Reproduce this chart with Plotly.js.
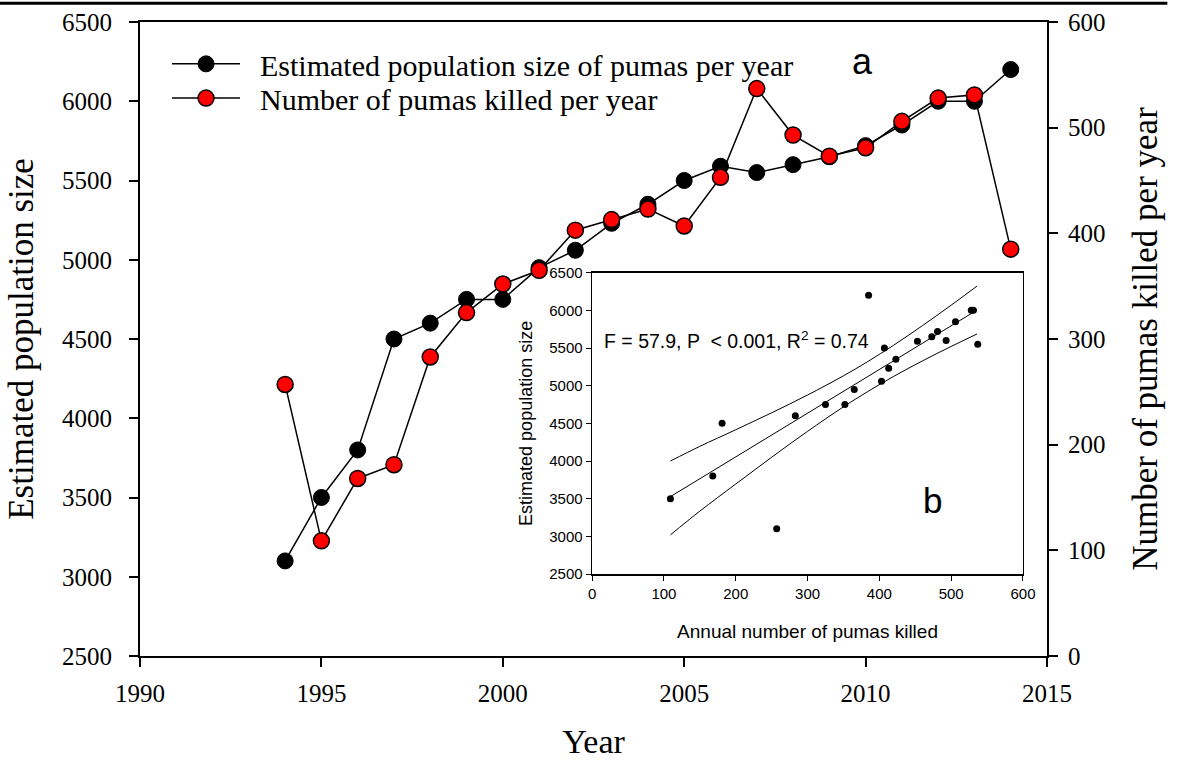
<!DOCTYPE html>
<html>
<head>
<meta charset="utf-8">
<script src="https://cdn.plot.ly/plotly-3.0.1.min.js"></script>
<style>
  html, body { margin: 0; padding: 0; background: #ffffff; }
  #chart { width: 1180px; height: 760px; }
</style>
</head>
<body>
<div id="chart"></div>
<script>
// ---- Data ----
const years = [1994, 1995, 1996, 1997, 1998, 1999, 2000, 2001, 2002, 2003, 2004,
               2005, 2006, 2007, 2008, 2009, 2010, 2011, 2012, 2013, 2014];
const populationSize = [3100, 3500, 3800, 4500, 4600, 4750, 4750, 4950, 5060, 5230, 5350,
                        5500, 5590, 5550, 5600, 5650, 5720, 5850, 6000, 6000, 6200];
const pumasKilled = [257, 109, 168, 181, 283, 325, 352, 365, 403, 413, 423,
                     407, 453, 537, 493, 473, 481, 506, 528, 531, 385];

// Regression line and confidence band of the inset
const fitKilled = [109, 536];
const fitPopulation = [3527, 6004];
const bandKilled = [109, 150, 200, 250, 300, 350, 384, 420, 460, 500, 536];
const bandUpper  = [4000, 4195, 4415, 4640, 4876, 5131, 5321, 5538, 5797, 6069, 6322];
const bandLower  = [3020, 3335, 3695, 4050, 4394, 4719, 4923, 5124, 5329, 5521, 5686];

// Axis tick values
const yearTicks = [1990, 1995, 2000, 2005, 2010, 2015];
const popTicks = [2500, 3000, 3500, 4000, 4500, 5000, 5500, 6000, 6500];
const killedTicks = [0, 100, 200, 300, 400, 500, 600];
const insetXTicks = [0, 100, 200, 300, 400, 500, 600];

const serif = 'Liberation Serif, Times New Roman, serif';
const sans = 'Liberation Sans, Arial, sans-serif';
const gap = '\u00a0\u00a0';

const traces = [
  {
    x: years, y: populationSize, xaxis: 'x', yaxis: 'y',
    type: 'scatter', mode: 'lines+markers',
    name: gap + 'Estimated population size of pumas per year',
    line: { color: '#000000', width: 1.5 },
    marker: { color: '#000000', size: 16, line: { color: '#000000', width: 1 } },
    legend: 'legend'
  },
  {
    x: years, y: pumasKilled, xaxis: 'x', yaxis: 'y2',
    type: 'scatter', mode: 'lines+markers',
    name: gap + 'Number of pumas killed per year',
    line: { color: '#000000', width: 1.5 },
    marker: { color: '#ff0000', size: 16, line: { color: '#000000', width: 1.5 } },
    legend: 'legend2'
  },
  {
    x: bandKilled, y: bandUpper, xaxis: 'x3', yaxis: 'y3',
    type: 'scatter', mode: 'lines', line: { color: '#000000', width: 1, shape: 'spline' },
    showlegend: false, hoverinfo: 'skip'
  },
  {
    x: bandKilled, y: bandLower, xaxis: 'x3', yaxis: 'y3',
    type: 'scatter', mode: 'lines', line: { color: '#000000', width: 1, shape: 'spline' },
    showlegend: false, hoverinfo: 'skip'
  },
  {
    x: fitKilled, y: fitPopulation, xaxis: 'x3', yaxis: 'y3',
    type: 'scatter', mode: 'lines', line: { color: '#000000', width: 1 },
    showlegend: false, hoverinfo: 'skip'
  },
  {
    x: pumasKilled, y: populationSize, xaxis: 'x3', yaxis: 'y3',
    type: 'scatter', mode: 'markers',
    marker: { color: '#000000', size: 7 },
    showlegend: false
  }
];

const layout = {
  width: 1180, height: 760, autosize: false,
  paper_bgcolor: '#ffffff', plot_bgcolor: 'rgba(0,0,0,0)',
  margin: { l: 140, r: 133, t: 22, b: 104, pad: 0 },
  showlegend: true,
  xaxis: {
    domain: [0, 1], range: [1990, 2015], tickvals: yearTicks,
    showline: true, linecolor: '#000000', linewidth: 2, mirror: true,
    ticks: 'outside', ticklen: 9, tickwidth: 2, tickcolor: '#000000',
    showgrid: false, zeroline: false, ticklabelstandoff: 5,
    tickfont: { family: serif, size: 25, color: '#000000' },
    title: { text: 'Year', font: { family: serif, size: 34, color: '#000000' }, standoff: 38 }
  },
  yaxis: {
    domain: [0, 1], range: [2500, 6500], tickvals: popTicks,
    showline: true, linecolor: '#000000', linewidth: 2,
    ticks: 'outside', ticklen: 9, tickwidth: 2, tickcolor: '#000000',
    showgrid: false, zeroline: false, ticklabelstandoff: 12,
    tickfont: { family: serif, size: 25, color: '#000000' },
    title: { text: 'Estimated population size', font: { family: serif, size: 35, color: '#000000' }, standoff: 18 }
  },
  yaxis2: {
    overlaying: 'y', side: 'right', range: [0, 600], tickvals: killedTicks,
    showline: true, linecolor: '#000000', linewidth: 2,
    ticks: 'outside', ticklen: 9, tickwidth: 2, tickcolor: '#000000',
    showgrid: false, zeroline: false, ticklabelstandoff: 5,
    tickfont: { family: serif, size: 25, color: '#000000' },
    title: { text: 'Number of pumas killed per year', font: { family: serif, size: 35, color: '#000000' }, standoff: 28 }
  },
  xaxis3: {
    domain: [0.4985, 0.9735], anchor: 'y3', range: [0, 600], tickvals: insetXTicks,
    showline: true, linecolor: '#000000', linewidth: 1.5, mirror: true,
    ticks: 'outside', ticklen: 5, tickwidth: 1, tickcolor: '#000000',
    showgrid: false, zeroline: false,
    tickfont: { family: sans, size: 15, color: '#000000' },
    title: { text: 'Annual number of pumas killed', font: { family: sans, size: 19, color: '#000000' }, standoff: 24 }
  },
  yaxis3: {
    domain: [0.1293, 0.6046], anchor: 'x3', range: [2500, 6500], tickvals: popTicks,
    showline: true, linecolor: '#000000', linewidth: 1.5, mirror: true,
    ticks: 'outside', ticklen: 5, tickwidth: 1, tickcolor: '#000000',
    showgrid: false, zeroline: false,
    tickfont: { family: sans, size: 15, color: '#000000' },
    title: { text: 'Estimated population size', font: { family: sans, size: 18, color: '#000000' }, standoff: 12 }
  },
  legend: {
    x: 0.0298, y: 0.934, xanchor: 'left', yanchor: 'middle',
    bgcolor: 'rgba(0,0,0,0)', borderwidth: 0, itemwidth: 68,
    font: { family: serif, size: 30, color: '#000000' }
  },
  legend2: {
    x: 0.0298, y: 0.880, xanchor: 'left', yanchor: 'middle',
    bgcolor: 'rgba(0,0,0,0)', borderwidth: 0, itemwidth: 68,
    font: { family: serif, size: 30, color: '#000000' }
  },
  annotations: [
    { text: 'a', xref: 'paper', yref: 'paper', x: 0.7963, y: 0.938, showarrow: false,
      xanchor: 'center', yanchor: 'middle', font: { family: sans, size: 36, color: '#000000' } },
    { text: 'b', xref: 'paper', yref: 'paper', x: 0.8735, y: 0.246, showarrow: false,
      xanchor: 'center', yanchor: 'middle', font: { family: sans, size: 35, color: '#000000' } },
    { text: 'F = 57.9, P &nbsp;&lt; 0.001, R<sup>2</sup> = 0.74', xref: 'paper', yref: 'paper',
      x: 0.6573, y: 0.4984, showarrow: false, xanchor: 'center', yanchor: 'middle',
      font: { family: sans, size: 19.5, color: '#000000' } }
  ],
  shapes: [
    { type: 'line', xref: 'paper', yref: 'paper', x0: -0.1544, x1: 1.1327, y0: 1.0295, y1: 1.0295,
      line: { color: '#000000', width: 3 } }
  ]
};

Plotly.newPlot('chart', traces, layout, { displayModeBar: false, staticPlot: true });
</script>
</body>
</html>
